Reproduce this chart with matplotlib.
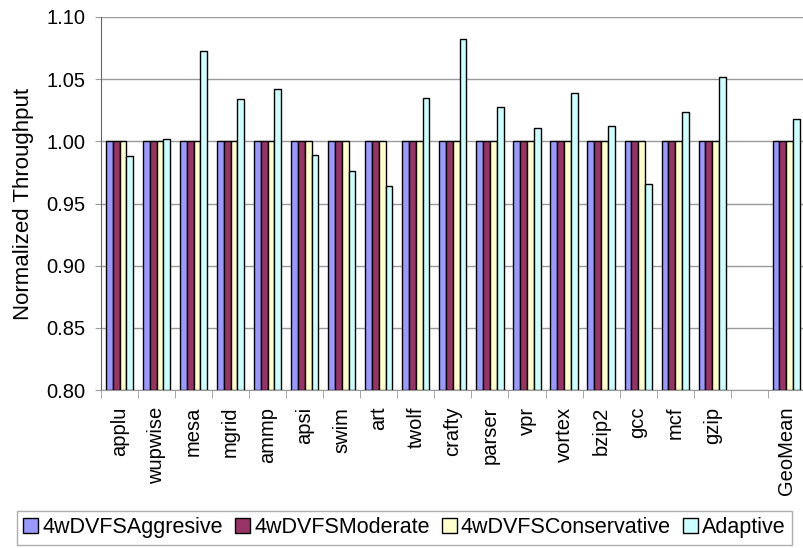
import numpy as np
import matplotlib.pyplot as plt

plt.rcParams['font.family'] = ['Liberation Sans', 'DejaVu Sans']

benchmarks = ['applu', 'wupwise', 'mesa', 'mgrid', 'ammp', 'apsi', 'swim', 'art',
              'twolf', 'crafty', 'parser', 'vpr', 'vortex', 'bzip2', 'gcc', 'mcf',
              'gzip', '', 'GeoMean']
series_names = ['4wDVFSAggresive', '4wDVFSModerate', '4wDVFSConservative', 'Adaptive']

aggressive = [1.0] * 17 + [np.nan, 1.0]
moderate = [1.0] * 17 + [np.nan, 1.0]
conservative = [1.0] * 17 + [np.nan, 1.0]
adaptive = [0.988, 1.002, 1.073, 1.034, 1.042, 0.989, 0.976, 0.964, 1.035,
            1.082, 1.028, 1.011, 1.039, 1.012, 0.966, 1.024, 1.052, np.nan, 1.018]

colors = ['#9999FF', '#993366', '#FFFFCC', '#CCFFFF']

fig = plt.figure(figsize=(8.04, 5.48), dpi=100)
ax = fig.add_axes([0.1256, 0.288, 0.8754, 0.681])

x = np.arange(len(benchmarks))
width = 1.0 / 5.45
for i, (vals, name, col) in enumerate(zip([aggressive, moderate, conservative, adaptive],
                                          series_names, colors)):
    offs = (i - 1.5) * width
    ax.bar(x + offs, np.array(vals) - 0.80, width, bottom=0.80, color=col,
           edgecolor='black', linewidth=1.0, label=name, zorder=3)

ax.set_xlim(-0.5, len(benchmarks) - 0.5)
ax.set_ylim(0.80, 1.10)
yt = np.arange(0.80, 1.101, 0.05)
ax.set_yticks(yt)
ax.set_yticklabels([f'{v:.2f}' for v in yt], fontsize=14.5)
ax.yaxis.grid(True, color='#999999', linewidth=1.0, zorder=0)
ax.set_axisbelow(True)

ax.set_xticks(x)
ax.set_xticklabels(benchmarks, rotation=90, fontsize=14.5, va='top')
ax.set_xticks(np.arange(-0.5, len(benchmarks)), minor=True)
ax.tick_params(axis='x', which='major', length=0, pad=12)
ax.tick_params(axis='x', which='minor', length=6, color='#999999')
ax.tick_params(axis='y', length=4, color='#999999', pad=7)

for s in ['top', 'right']:
    ax.spines[s].set_visible(False)
ax.spines['left'].set_color('#666666')
ax.spines['bottom'].set_color('#999999')

ax.set_ylabel('Normalized Throughput', fontsize=16, labelpad=9)

leg = fig.legend(loc='lower center', bbox_to_anchor=(0.503, 0.0), ncol=4, fontsize=15.5,
                 frameon=True, fancybox=False, edgecolor='#999999',
                 handlelength=0.7, handleheight=0.7, handletextpad=0.2,
                 columnspacing=0.55, borderpad=0.3, borderaxespad=0.15)
leg.get_frame().set_linewidth(1.0)

fig.savefig('out.png', dpi=100)
